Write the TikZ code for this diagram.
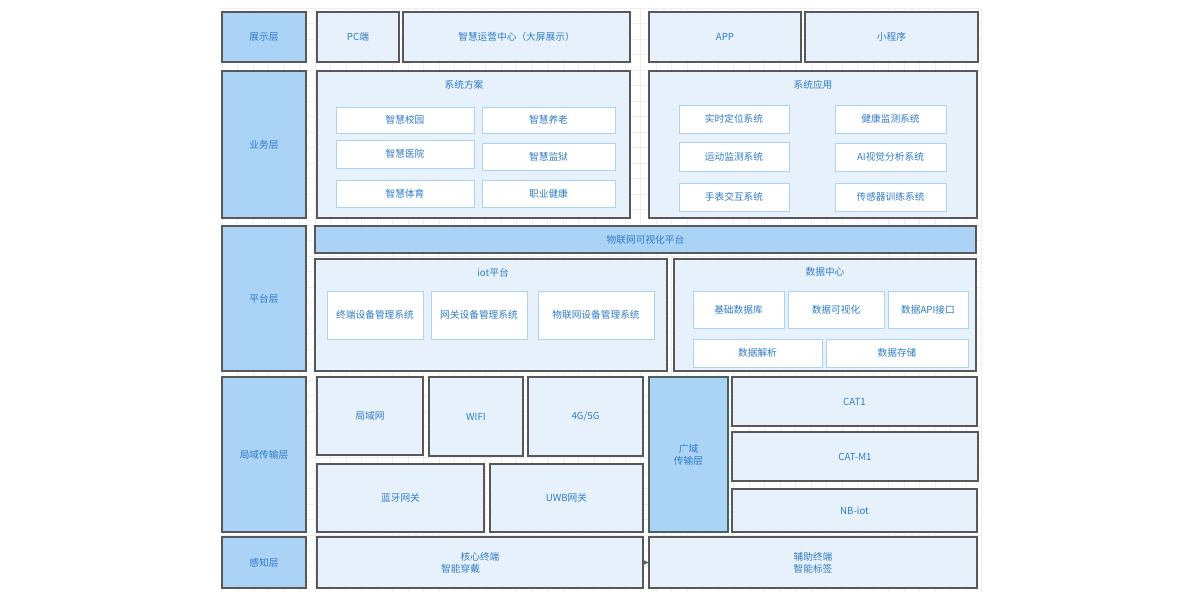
\documentclass[tikz,border=0pt]{standalone}
\usepackage{fontspec}
\setmainfont{Noto Sans CJK SC}
\usetikzlibrary{arrows.meta}

\definecolor{layerblue}{RGB}{170,211,245}
\definecolor{panelblue}{RGB}{231,241,251}
\definecolor{edgeblue}{RGB}{172,210,242}
\definecolor{textblue}{RGB}{48,124,200}
\definecolor{framegray}{RGB}{88,88,88}
\definecolor{framegreen}{RGB}{72,100,88}
\definecolor{gridgray}{RGB}{238,238,238}

\newcommand*{\gxmin}{222}
\newcommand*{\gxmax}{982}
\newcommand*{\gymin}{8}
\newcommand*{\gymax}{592}

\begin{document}
\begin{tikzpicture}
[
	x=1pt, y=-1pt,
	every node/.style={font=\fontsize{9.7}{11.8}\selectfont, text=textblue, inner sep=0pt, align=center},
	dims/.style 2 args={minimum width=#1, minimum height=#2},
	layer/.style={draw=framegray, fill=layerblue, line width=1.3pt},
	panel/.style={draw=framegray, fill=panelblue, line width=1.3pt},
	item/.style={draw=edgeblue, fill=white, line width=0.9pt}
]

	\useasboundingbox (0,0) rectangle (1200,600);

	% grid
	\foreach \x in {\gxmin,237.5,...,\gxmax} {
		\draw[gridgray,line width=0.7pt] (\x,\gymin) -- (\x,\gymax);
	}
	\foreach \y in {\gymin,23.5,...,\gymax} {
		\draw[gridgray,line width=0.7pt] (\gxmin,\y) -- (\gxmax,\y);
	}

	% layers
	\node[layer,dims={84}{50}] (show) at (264,37) {展示层};
	\node[layer,dims={84}{147}] (biz) at (264,144.5) {业务层};
	\node[layer,dims={84}{145}] (plat) at (264,298.5) {平台层};
	\node[layer,dims={84}{155}] (lan) at (264,454.5) {局域传输层};
	\node[layer,dims={84}{51}] (sense) at (264,562.5) {感知层};

	% display
	\node[panel,dims={82}{50}] (pc) at (358,37) {PC端};
	\node[panel,dims={227}{50}] (ops) at (516.5,37) {智慧运营中心（大屏展示）};
	\node[panel,dims={152}{50}] (app) at (725,37) {APP};
	\node[panel,dims={173}{50}] (mini) at (891.5,37) {小程序};

	% business
	\node[panel,dims={313}{147}] (scheme) at (473.5,144.5) {};
	\node (scheme-t) at (464,85) {系统方案};
	\node[item,dims={138}{26}] (campus) at (405,120) {智慧校园};
	\node[item,dims={133}{26}] (elder) at (548.5,120) {智慧养老};
	\node[item,dims={138}{28}] (hospital) at (405,154) {智慧医院};
	\node[item,dims={133}{27}] (prison) at (548.5,156.5) {智慧监狱};
	\node[item,dims={138}{27}] (sports) at (405,193.5) {智慧体育};
	\node[item,dims={133}{27}] (health) at (548.5,193.5) {职业健康};

	\node[panel,dims={328}{147}] (apps) at (813,144.5) {};
	\node (apps-t) at (813,85) {系统应用};
	\node[item,dims={110}{28}] (locate) at (734,119) {实时定位系统};
	\node[item,dims={111}{28}] (healthmon) at (890.5,119) {健康监测系统};
	\node[item,dims={110}{29}] (motion) at (734,156.5) {运动监测系统};
	\node[item,dims={111}{28}] (vision) at (890.5,157) {AI视觉分析系统};
	\node[item,dims={110}{28}] (watch) at (734,197) {手表交互系统};
	\node[item,dims={111}{28}] (sensor) at (890.5,197) {传感器训练系统};

	% platform
	\node[layer,dims={661}{27}] (vis) at (645.5,239.5) {物联网可视化平台};

	\node[panel,dims={352}{112}] (iot) at (491,315) {};
	\node (iot-t) at (493,273) {iot平台};
	\node[item,dims={96}{48}] (term) at (375,315) {终端设备管理系统};
	\node[item,dims={96}{48}] (gw) at (479,315) {网关设备管理系统};
	\node[item,dims={116}{48}] (iotdev) at (596,315) {物联网设备管理系统};

	\node[panel,dims={302}{112}] (dc) at (825,315) {};
	\node (dc-t) at (825,272) {数据中心};
	\node[item,dims={91}{37}] (basedb) at (738.5,309.5) {基础数据库};
	\node[item,dims={96}{37}] (datavis) at (836,309.5) {数据可视化};
	\node[item,dims={80}{37}] (api) at (928,309.5) {数据API接口};
	\node[item,dims={129}{28}] (parse) at (757.5,353) {数据解析};
	\node[item,dims={142}{28}] (store) at (897,353) {数据存储};

	% local transport
	\node[panel,dims={106}{78}] (lannet) at (370,416) {局域网};
	\node[panel,dims={94}{79}] (wifi) at (476,416.5) {WIFI};
	\node[panel,dims={115}{79}] (mobile) at (585.5,416.5) {4G/5G};
	\node[panel,dims={167}{68}] (bt) at (400.5,498) {蓝牙网关};
	\node[panel,dims={153}{68}] (uwb) at (566.5,498) {UWB网关};

	% wide transport
	\node[layer,draw=framegreen,dims={79}{155}] (wan) at (688.5,454.5) {广域\\传输层};
	\node[panel,dims={245}{49}] (cat1) at (854.5,401.5) {CAT1};
	\node[panel,dims={246}{49}] (catm1) at (855,456.5) {CAT-M1};
	\node[panel,dims={245}{43}] (nbiot) at (854.5,510.5) {NB-iot};

	% sensing
	\node[panel,dims={326}{51}] (core) at (480,562.5) {核心终端\\智能穿戴\hspace*{4em}};
	\node[panel,dims={328}{51}] (aux) at (813,562.5) {辅助终端\\智能标签};

	\draw[-{Stealth[length=5pt,width=5pt]},framegreen,line width=1pt] (core) -- (aux);

\end{tikzpicture}
\end{document}
